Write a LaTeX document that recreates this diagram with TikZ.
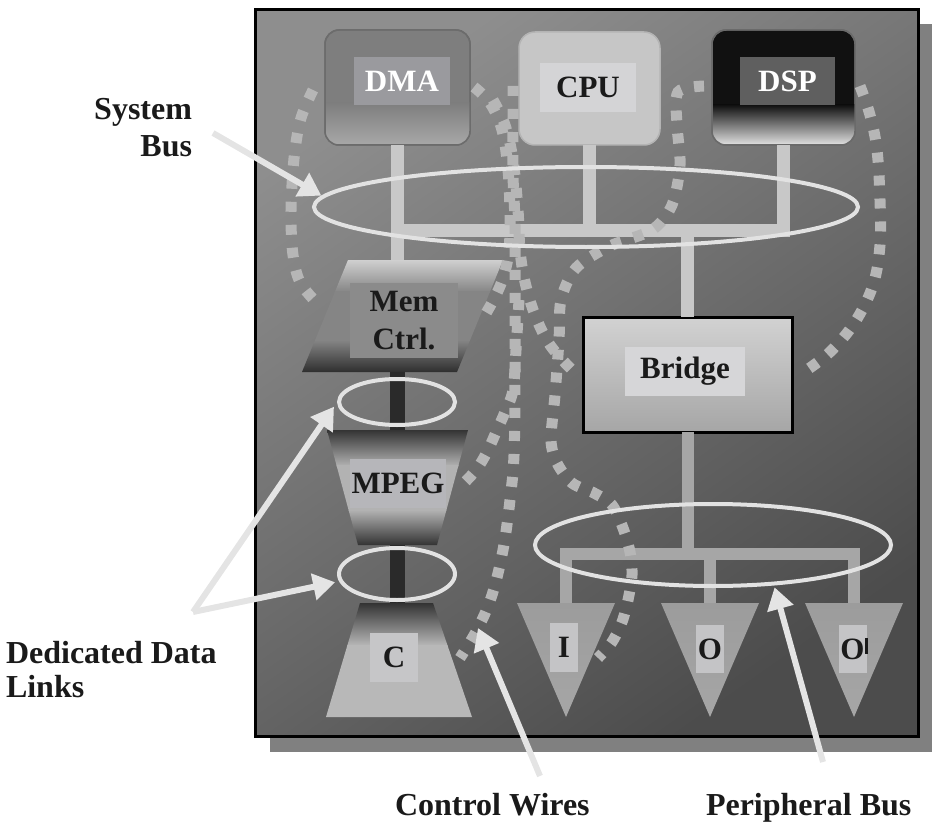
\documentclass[tikz,border=0pt]{standalone}
\usepackage{fontspec}
\setmainfont{Liberation Serif}
\usetikzlibrary{arrows.meta,shapes.geometric,calc}

\definecolor{bgA}{HTML}{8E8E8E}
\definecolor{bgB}{HTML}{4C4C4C}
\definecolor{shadowC}{HTML}{808080}
\definecolor{dmaC}{HTML}{7E7E7E}
\definecolor{dmaE}{HTML}{6C6C6C}
\definecolor{dmaL}{HTML}{C8C8C8}
\definecolor{dmaB}{HTML}{A8A8A8}
\definecolor{dmaLab}{HTML}{9A9A9E}
\definecolor{cpuC}{HTML}{C6C6C6}
\definecolor{cpuE}{HTML}{B4B4B4}
\definecolor{cpuLab}{HTML}{D4D4D6}
\definecolor{dspC}{HTML}{111111}
\definecolor{dspE}{HTML}{6A6A6A}
\definecolor{dspL}{HTML}{E2E2E2}
\definecolor{dspLab}{HTML}{5F5F5F}
\definecolor{memA}{HTML}{D2D2D2}
\definecolor{memB}{HTML}{858585}
\definecolor{memC}{HTML}{2C2C2C}
\definecolor{memLab}{HTML}{8B8B8B}
\definecolor{darkC}{HTML}{303030}
\definecolor{mpegB}{HTML}{B2B2B2}
\definecolor{mpegLab}{HTML}{B6B6BA}
\definecolor{cB}{HTML}{B8B8B8}
\definecolor{cLab}{HTML}{C6C6C8}
\definecolor{brA}{HTML}{D2D2D2}
\definecolor{brB}{HTML}{A6A6A6}
\definecolor{brLab}{HTML}{D6D6D8}
\definecolor{triA}{HTML}{9C9C9C}
\definecolor{triB}{HTML}{C2C2C2}
\definecolor{triC}{HTML}{A6A6A6}
\definecolor{triLab}{HTML}{C4C4C6}
\definecolor{busC}{HTML}{C8C8C8}
\definecolor{pbusC}{HTML}{A6A6A6}
\definecolor{dlinkC}{HTML}{2A2A2A}
\definecolor{ringC}{HTML}{E2E2E2}
\definecolor{wireC}{HTML}{B6B6B6}
\definecolor{arrowC}{HTML}{E4E4E4}
\definecolor{inkC}{HTML}{1A1A1A}

\begin{document}
\begin{tikzpicture}[x=1pt,y=-1pt,
  topbox/.style={rectangle, rounded corners=14pt, inner sep=0pt, outer sep=0pt, line width=1.5pt},
  lbox/.style={rectangle, inner sep=0pt, outer sep=0pt, text=inkC,
    font=\fontsize{31}{38}\selectfont\bfseries, align=center},
  capt/.style={inner sep=0pt, outer sep=0pt, text=inkC, font=\fontsize{32}{37}\selectfont\bfseries},
  sysbus/.style={draw=busC, line width=13pt},
  pbus/.style={draw=pbusC, line width=12pt},
  dlink/.style={draw=dlinkC, line width=15pt},
  ring/.style={ellipse, draw=ringC, line width=4pt, inner sep=0pt, outer sep=0pt},
  wire/.style={draw=wireC, line width=11pt, dash pattern=on 10pt off 13pt},
  pointarrow/.style={draw=arrowC, fill=arrowC, line width=6pt, -{Triangle[length=22pt,width=26pt]}}
]
\useasboundingbox (0,0) rectangle (932,824);

% shadow and panel
\fill[shadowC] (270,24) rectangle (932,752);
\shade[top color=bgA, bottom color=bgB, shading angle=35] (255,10) rectangle (918,736);
\draw[black, line width=3pt] (255,10) rectangle (918,736);

% ---------- top units ----------
\node[topbox, fill=dmaC, draw=dmaE, minimum width=145pt, minimum height=115pt] (dma) at (397.5,87.5) {};
\begin{scope}
  \clip[rounded corners=14pt] (dma.south west) rectangle (dma.north east);
  \shade[top color=dmaC, middle color=dmaL, bottom color=dmaB] (dma.south west) rectangle ($(dma.south east)+(0pt,42pt)$);
\end{scope}
\draw[dmaE, line width=1.5pt, rounded corners=14pt] (dma.south west) rectangle (dma.north east);

\node[topbox, rounded corners=16pt, fill=cpuC, draw=cpuE, minimum width=141pt, minimum height=113pt] (cpu) at (589.5,88.5) {};

\node[topbox, fill=dspC, draw=dspE, minimum width=143pt, minimum height=115pt] (dsp) at (783.5,87.5) {};
\begin{scope}
  \clip[rounded corners=14pt] (dsp.south west) rectangle (dsp.north east);
  \shade[top color=dspC, bottom color=dspL] (dsp.south west) rectangle ($(dsp.south east)+(0pt,40pt)$);
\end{scope}
\draw[dspE, line width=1.5pt, rounded corners=14pt] (dsp.south west) rectangle (dsp.north east);

\node[lbox, fill=dmaLab, text=white, minimum width=96pt, minimum height=48pt] (dmalbl) at (402,81) {DMA};
\node[lbox, fill=cpuLab, minimum width=96pt, minimum height=49pt] (cpulbl) at (588,87.5) {CPU};
\node[lbox, fill=dspLab, text=white, minimum width=95pt, minimum height=48pt] (dsplbl) at (787.5,81) {DSP};

% ---------- left column ----------
\coordinate (memtop) at (397.5,260);
\coordinate (membot) at (397,372);
\coordinate (mpegtop) at (397,430);
\coordinate (mpegbot) at (397,545);
\coordinate (ctop) at (397,603);

\begin{scope}
  \clip (348,260) -- (503,260) -- (457,372) -- (302,372) -- cycle;
  \shade[top color=memA, bottom color=memB] (290,259) rectangle (520,292);
  \fill[memB] (290,291) rectangle (520,341);
  \shade[top color=memB, bottom color=memC] (290,340) rectangle (520,373);
\end{scope}
\node[lbox, fill=memLab, minimum width=108pt, minimum height=75pt] (memlbl) at (404,320.5) {Mem\\Ctrl.};

\begin{scope}
  \clip (327,430) -- (468,430) -- (437,545) -- (358,545) -- cycle;
  \shade[top color=darkC, bottom color=mpegB] (320,429) rectangle (475,466);
  \fill[mpegB] (320,465) rectangle (475,511);
  \shade[top color=mpegB, bottom color=darkC] (320,510) rectangle (475,546);
\end{scope}
\node[lbox, fill=mpegLab, minimum width=96pt, minimum height=49pt] (mpeglbl) at (398,483.5) {MPEG};

\begin{scope}
  \clip (360,603) -- (433,603) -- (472,717) -- (326,717) -- cycle;
  \shade[top color=darkC, bottom color=cB] (320,602) rectangle (480,646);
  \fill[cB] (320,645) rectangle (480,718);
\end{scope}
\node[lbox, fill=cLab, minimum width=48pt, minimum height=49pt] (clbl) at (394,657.5) {C};

% ---------- bridge and peripherals ----------
\node[rectangle, draw=black, line width=3pt, top color=brA, bottom color=brB,
      minimum width=209pt, minimum height=115pt, inner sep=0pt, outer sep=0pt] (bridge) at (687.5,374.5) {};
\node[lbox, fill=brLab, minimum width=120pt, minimum height=49pt] (bridgelbl) at (685,371.5) {Bridge};

\coordinate (tItop) at (566,603);
\coordinate (tOtop) at (710,603);
\coordinate (tPtop) at (854,603);
\shade[top color=triA, middle color=triB, bottom color=triC] (517,603) -- (615,603) -- (566,717) -- cycle;
\shade[top color=triA, middle color=triB, bottom color=triC] (661,603) -- (759,603) -- (710,717) -- cycle;
\shade[top color=triA, middle color=triB, bottom color=triC] (805,603) -- (903,603) -- (854,717) -- cycle;
\node[lbox, fill=triLab, minimum width=28pt, minimum height=49pt] (ilbl) at (564,647.5) {I};
\node[lbox, fill=triLab, minimum width=28pt, minimum height=48pt] (olbl) at (710,649) {O};
\node[lbox, fill=triLab, minimum width=28pt, minimum height=48pt] (o2lbl) at (852.5,649) {O};
\fill[inkC] (865,638) rectangle (867.5,654);

% ---------- buses ----------
\coordinate (busL) at (397.5,230);
\coordinate (pbusY) at (687.5,554);
\draw[sysbus] (dma.south) -- (memtop);
\draw[sysbus] (cpu.south) -- (cpu.south |- busL);
\draw[sysbus] (dsp.south) |- (busL);
\draw[sysbus] (bridge.north) -- (bridge.north |- busL);
\draw[pbus] (bridge.south) -- (bridge.south |- pbusY);
\draw[pbus] (tItop) |- (tPtop |- pbusY) -- (tPtop);
\draw[pbus] (tOtop) -- (tOtop |- pbusY);
\draw[dlink] (membot) -- (mpegtop);
\draw[dlink] (mpegbot) -- (ctop);

% ---------- control wires ----------
\draw[wire] plot[smooth, tension=0.6] coordinates {(313,90) (301,118) (295,150) (292,185) (291,220) (293,255) (300,282) (316,302)};
\draw[wire] plot[smooth, tension=0.6] coordinates {(860,86) (870,115) (877,150) (880,200) (880,245) (873,285) (855,322) (830,352) (804,372)};
\draw[wire] plot[smooth, tension=0.5] coordinates {(704,86) (678,92) (677,125) (680,165) (672,205) (652,230) (610,246) (576,268) (561,300) (559,340) (555,395) (551,440) (557,463) (572,483) (594,493) (612,505) (623,528) (630,552) (632,575) (628,600) (622,622) (612,642) (598,658)};
\draw[wire] plot[smooth, tension=0.6] coordinates {(513,86) (513,125) (513,175) (515,225) (515,300) (515,380) (514,455) (510,500) (503,550) (492,595) (478,628) (460,658)};
\draw[wire] plot[smooth, tension=0.6] coordinates {(493,100) (505,125) (513,160) (518,210) (520,250) (525,282) (535,315) (550,345) (572,370)};
\draw[wire] plot[smooth, tension=0.6] coordinates {(474,87) (490,103) (502,130) (508,170) (510,215) (509,250) (504,275) (496,295) (485,315)};
\draw[wire] plot[smooth, tension=0.6] coordinates {(519,300) (516,350) (513,390) (505,412) (497,430) (487,452) (476,470) (460,487)};

% ---------- rings ----------
\node[ring, minimum width=544pt, minimum height=80pt] (sysring) at (586,207) {};
\node[ring, minimum width=116pt, minimum height=46pt] (dl1) at (397,402) {};
\node[ring, minimum width=116pt, minimum height=52pt] (dl2) at (397,574) {};
\node[ring, minimum width=356pt, minimum height=82pt] (pring) at (713,545) {};

% ---------- captions ----------
\node[capt, align=right, anchor=north east] (sysbuslbl) at (192,98) {System\\Bus};
\node[capt, align=left, anchor=north west, font=\fontsize{32}{34}\selectfont\bfseries] (ddllbl) at (6,641) {Dedicated Data\\Links};
\node[capt, anchor=base west] (cwlbl) at (395,815) {Control Wires};
\node[capt, anchor=base west] (pblbl) at (706,815) {Peripheral Bus};

% ---------- pointer arrows ----------
\coordinate (sysTail) at (213,133);
\coordinate (ddlV) at (193,612);
\coordinate (cwTail) at (540,776);
\coordinate (cwTip) at (478,628);
\coordinate (pbTail) at (823,762);
\draw[pointarrow] (sysTail) -- ($(sysring.center)+(165:274pt and 44pt)$);
\draw[pointarrow] (ddlV) -- ($(dl1.center)+(190:64pt and 27pt)$);
\draw[pointarrow] (ddlV) -- ($(dl2.center)+(195:64pt and 32pt)$);
\draw[pointarrow] (cwTail) -- (cwTip);
\draw[pointarrow] (pbTail) -- ($(pring.center)+(290:180pt and 45pt)$);
\end{tikzpicture}
\end{document}
